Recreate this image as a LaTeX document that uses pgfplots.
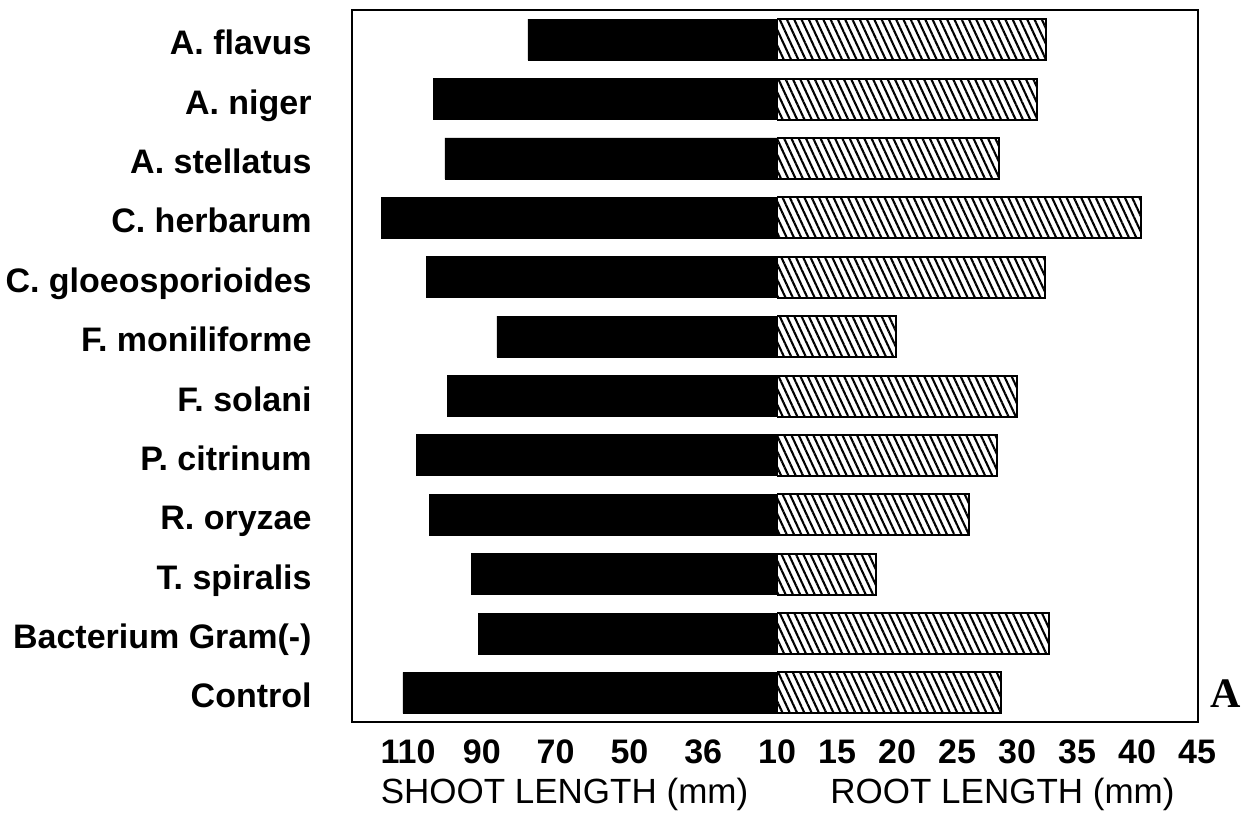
\documentclass[border=0pt]{standalone}
\usepackage{fontspec}
\setmainfont{Liberation Sans}
\newfontfamily\serifA{Liberation Serif}
\usepackage{pgfplots}
\pgfplotsset{compat=1.18}
\usetikzlibrary{patterns.meta}

% shoot and root length (mm) per treatment, top to bottom
\pgfplotsset{
  common/.style={
    scale only axis, height=356pt,
    ymin=0.5, ymax=12.49, y dir=reverse,
    axis line style={draw=none},
    major tick length=0pt,
    clip=true,
    /pgf/number format/assume math mode=true,
    xticklabel style={font=\fontsize{17}{20}\selectfont\bfseries, anchor=base, inner sep=0pt, yshift=-20.5pt},
    x label style={at={(axis description cs:0.5,0)}, anchor=base, inner sep=0pt, yshift=-40.5pt, font=\fontsize{17.5}{20}\selectfont},
  },
}

\begin{document}
\begin{tikzpicture}
\path[use as bounding box] (0,0) rectangle (629.5pt,-407.5pt);

\begin{axis}[common, name=shoot,
  at={(176pt,-5pt)}, anchor=north west, width=212.5pt,
  x dir=reverse, xmin=10, xmax=125.2,
  xtick={30,50,70,90,110}, xticklabels={36,50,70,90,110},
  ytick={1,...,12},
  yticklabels={A. flavus, A. niger, A. stellatus, C. herbarum, C. gloeosporioides, F. moniliforme, F. solani, P. citrinum, R. oryzae, T. spiralis, Bacterium Gram(-), Control},
  yticklabel style={font=\fontsize{17}{20}\selectfont\bfseries, anchor=base east, inner sep=0pt, xshift=-20pt, yshift=-7.5pt},
  xlabel={SHOOT LENGTH (mm)},
]
\addplot[xbar, bar shift=0pt, bar width=20.5pt, fill=black, draw=black]
  coordinates {(77.5,1) (103.2,2) (100.0,3) (117.3,4) (104.9,5) (85.9,6)
               (99.4,7) (107.8,8) (104.3,9) (92.9,10) (91.0,11) (111.4,12)};
\end{axis}

\begin{axis}[common, name=root,
  at={(388.5pt,-5pt)}, anchor=north west, width=210.5pt,
  xmin=10, xmax=45.08,
  xtick={10,15,...,45},
  ytick=\empty,
  xlabel={ROOT LENGTH (mm)},
  x label style={xshift=7.5pt},
]
\addplot[xbar, bar shift=0pt, bar width=20.5pt, draw=black, line width=1pt,
  pattern={Lines[angle=115, distance=3.3pt, line width=1.05pt]}]
  coordinates {(32.4,1) (31.7,2) (28.5,3) (40.3,4) (32.3,5) (19.9,6)
               (30.0,7) (28.3,8) (26.0,9) (18.25,10) (32.7,11) (28.7,12)};
\end{axis}

\draw[line width=1pt] (shoot.north west) rectangle (root.south east);
\node[font=\serifA\bfseries\fontsize{21}{24}\selectfont, anchor=base west, inner sep=0pt]
  at ([shift={(6pt,7.5pt)}]root.south east) {A};
\end{tikzpicture}
\end{document}
